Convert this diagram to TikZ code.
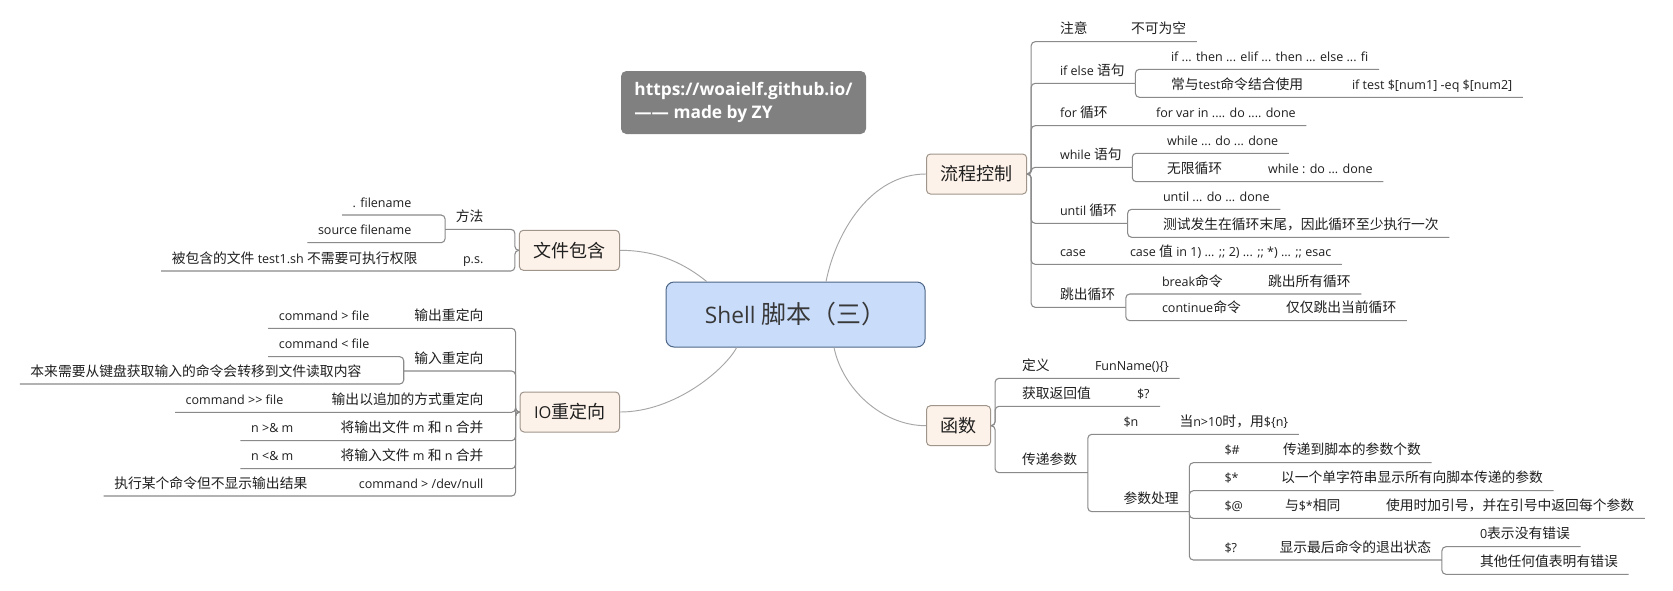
\documentclass[tikz,border=0pt]{standalone}
\usepackage{fontspec}
\usepackage{tikz}
\setmainfont{Open Sans}
\newfontfamily\latfont{Open Sans}
\newfontfamily\cjkfont{Noto Sans CJK SC}[Scale=1.1]

% CJK runs switch font by themselves
\XeTeXinterchartokenstate=1
\newXeTeXintercharclass\cjkclass
\newcount\cjkcode
\cjkcode="3000
\loop
  \XeTeXcharclass\cjkcode=\cjkclass
  \ifnum\cjkcode<"9FFF \advance\cjkcode by 1
\repeat
\cjkcode="FF00
\loop
  \XeTeXcharclass\cjkcode=\cjkclass
  \ifnum\cjkcode<"FFEF \advance\cjkcode by 1
\repeat
\XeTeXinterchartoks 0 \cjkclass = {\cjkfont}
\XeTeXinterchartoks 4095 \cjkclass = {\cjkfont}
\XeTeXinterchartoks \cjkclass 0 = {\latfont}
\XeTeXinterchartoks \cjkclass 4095 = {\latfont}

\definecolor{rootfill}{HTML}{C9DCFA}
\definecolor{rootborder}{HTML}{4C6587}
\definecolor{topfill}{HTML}{FDF2E9}
\definecolor{topborder}{HTML}{A0958B}
\definecolor{notegray}{HTML}{808080}
\definecolor{linkgray}{HTML}{A6A6A6}
\definecolor{branchgray}{HTML}{8A8A8A}
\definecolor{textdark}{HTML}{1F1F1F}
\definecolor{titlegray}{HTML}{383838}

\begin{document}
\begin{tikzpicture}[x=0.75pt, y=-0.75pt,
    root/.style={draw=rootborder, line width=0.75pt, fill=rootfill, rounded corners=6pt, minimum width=194.25pt, minimum height=48.75pt, font=\fontsize{17}{20}\selectfont, text=titlegray},
    topic/.style={draw=topborder, line width=0.75pt, fill=topfill, rounded corners=3pt, inner xsep=10.5pt, minimum height=30pt, font=\fontsize{12.3}{14}\selectfont, text=textdark},
    note/.style={fill=notegray, rounded corners=4pt, minimum width=183.75pt, minimum height=47.25pt, align=left, text=white, font=\bfseries\fontsize{13}{17.5}\selectfont}]
        \tikzset{leaf/.style={anchor=text, inner xsep=8pt, inner ysep=0pt, outer sep=0pt, text depth=6pt, font=\fontsize{9.4}{11}\selectfont, text=textdark}}
        \tikzset{leafl/.style={leaf, anchor=base east}}
        \tikzset{link/.style={draw=linkgray, line width=0.7pt}}
        \tikzset{branch/.style={draw=branchgray, line width=0.8pt, rounded corners=3pt}}
        \fill[white] (0,0) rectangle (1673,590);
        \useasboundingbox (0,0) rectangle (1673,590);
        % top level
        \node[note] (url) at (743.5,102.5) {https://woaielf.github.io/\\—— made by ZY};
        \node[root] (sh) at (795.5,314.5) {Shell 脚本（三）};
        \node[topic, anchor=west] (lc) at (926,174) {流程控制};
        \node[topic, anchor=west] (hs) at (926,425.7) {函数};
        \node[topic, anchor=east] (wjbh) at (620,250.3) {文件包含};
        \node[topic, anchor=east] (io) at (620,412) {IO重定向};
        \draw[link] ([xshift=22.9pt]sh.north) .. controls +(10,-50) and +(-55,0) .. (lc.west);
        \draw[link] ([xshift=28.9pt]sh.south) .. controls +(8,40) and +(-45,0) .. (hs.west);
        \draw[link] ([xshift=-66.6pt]sh.north) .. controls +(-20,-16) and +(40,0) .. (wjbh.east);
        \draw[link] ([xshift=-44.1pt]sh.south) .. controls +(-12,22) and +(55,0) .. (io.east);
        % flow control
        \node[leaf] (zy) at (1060,33.7) {注意};
        \node[leaf] (bkwk) at (1131,33.7) {不可为空};
        \node[leaf] (ifelse) at (1060,75.3) {if else 语句};
        \node[leaf] (ifthen) at (1171,61.3) {if ... then ... elif ... then ... else ... fi};
        \node[leaf] (ifcy) at (1171,89.3) {常与test命令结合使用};
        \node[leaf] (iftest) at (1352,89.3) {if test \$[num1] -eq \$[num2]};
        \node[leaf] (forxh) at (1060,117.7) {for 循环};
        \node[leaf] (forvar) at (1156,117.7) {for var in .... do .... done};
        \node[leaf] (whilejy) at (1060,159.3) {while 语句};
        \node[leaf] (whiledo) at (1167,145.3) {while ... do ... done};
        \node[leaf] (wxxh) at (1167,173.7) {无限循环};
        \node[leaf] (whileinf) at (1268,173.7) {while : do ... done};
        \node[leaf] (untilxh) at (1060,215.3) {until 循环};
        \node[leaf] (untildo) at (1163,201.3) {until ... do ... done};
        \node[leaf] (untilnote) at (1163,229.3) {测试发生在循环末尾，因此循环至少执行一次};
        \node[leaf] (casejy) at (1060,256.3) {case};
        \node[leaf] (casesyn) at (1130,256.3) {case 值 in 1) ... ;; 2) ... ;; *) ... ;; esac};
        \node[leaf] (tcxh) at (1060,299.3) {跳出循环};
        \node[leaf] (brk) at (1162,286) {break命令};
        \node[leaf] (brkall) at (1268,286) {跳出所有循环};
        \node[leaf] (cont) at (1162,312.7) {continue命令};
        \node[leaf] (contcur) at (1286,312.7) {仅仅跳出当前循环};
        \draw[branch] (lc.east) -- ++(4,0) |- (bkwk.south east);
        \draw[branch] (lc.east) -- ++(4,0) |- (ifelse.south east);
        \draw[branch] (lc.east) -- ++(4,0) |- (forvar.south east);
        \draw[branch] (lc.east) -- ++(4,0) |- (whilejy.south east);
        \draw[branch] (lc.east) -- ++(4,0) |- (untilxh.south east);
        \draw[branch] (lc.east) -- ++(4,0) |- (casesyn.south east);
        \draw[branch] (lc.east) -- ++(4,0) |- (tcxh.south east);
        \draw[branch] (ifelse.south east) |- (ifthen.south east);
        \draw[branch] (ifelse.south east) |- (iftest.south east);
        \draw[branch] (whilejy.south east) |- (whiledo.south east);
        \draw[branch] (whilejy.south east) |- (whileinf.south east);
        \draw[branch] (untilxh.south east) |- (untildo.south east);
        \draw[branch] (untilxh.south east) |- (untilnote.south east);
        \draw[branch] (tcxh.south east) |- (brkall.south east);
        \draw[branch] (tcxh.south east) |- (contcur.south east);
        % functions
        \node[leaf] (dy) at (1022,370.3) {定义};
        \node[leaf] (funname) at (1095,370.3) {FunName()\{\}};
        \node[leaf] (hqfhz) at (1022,398.3) {获取返回值};
        \node[leaf] (retval) at (1137,398.3) {\$?};
        \node[leaf] (cdcs) at (1022,464.7) {传递参数};
        \node[leaf] (dn) at (1123.5,426.3) {\$n};
        \node[leaf] (dngt) at (1179.5,426.3) {当n>10时，用\$\{n\}};
        \node[leaf] (cscl) at (1123.5,503.7) {参数处理};
        \node[leaf] (dhash) at (1224.5,454.7) {\$\#};
        \node[leaf] (dhashd) at (1283,454.7) {传递到脚本的参数个数};
        \node[leaf] (dstar) at (1224.5,482.7) {\$*};
        \node[leaf] (dstard) at (1281,482.7) {以一个单字符串显示所有向脚本传递的参数};
        \node[leaf] (dat) at (1224.5,510.3) {\$@};
        \node[leaf] (datd) at (1285,510.3) {与\$*相同};
        \node[leaf] (datn) at (1386,510.3) {使用时加引号，并在引号中返回每个参数};
        \node[leaf] (dq) at (1224.5,552) {\$?};
        \node[leaf] (dqd) at (1279.6,552) {显示最后命令的退出状态};
        \node[leaf] (dqzero) at (1480,538.7) {0表示没有错误};
        \node[leaf] (dqother) at (1480,566.3) {其他任何值表明有错误};
        \draw[branch] (hs.east) -- ++(4,0) |- (funname.south east);
        \draw[branch] (hs.east) -- ++(4,0) |- (retval.south east);
        \draw[branch] (hs.east) -- ++(4,0) |- (cdcs.south east);
        \draw[branch] (cdcs.south east) |- (dngt.south east);
        \draw[branch] (cdcs.south east) |- (cscl.south east);
        \draw[branch] (cscl.south east) |- (dhashd.south east);
        \draw[branch] (cscl.south east) |- (dstard.south east);
        \draw[branch] (cscl.south east) |- (datn.south east);
        \draw[branch] (cscl.south east) |- (dqd.south east);
        \draw[branch] (dqd.south east) |- (dqzero.south east);
        \draw[branch] (dqd.south east) |- (dqother.south east);
        % file include
        \node[leafl] (ff) at (494,221.3) {方法};
        \node[leafl] (dotf) at (422,207) {. filename};
        \node[leafl] (srcf) at (422,234.7) {source filename};
        \node[leafl] (ps) at (494,263) {p.s.};
        \node[leafl] (psn) at (428,263) {被包含的文件 test1.sh 不需要可执行权限};
        \draw[branch] (wjbh.west) -- ++(-4,0) |- (ff.south west);
        \draw[branch] (wjbh.west) -- ++(-4,0) |- (psn.south west);
        \draw[branch] (ff.south west) |- (dotf.south west);
        \draw[branch] (ff.south west) |- (srcf.south west);
        % io redirection
        \node[leafl] (scdx) at (494,320.3) {输出重定向};
        \node[leafl] (cmdgt) at (380,320.3) {command > file};
        \node[leafl] (srcdx) at (494,363) {输入重定向};
        \node[leafl] (cmdlt) at (380,348.7) {command < file};
        \node[leafl] (srnote) at (372,376) {本来需要从键盘获取输入的命令会转移到文件读取内容};
        \node[leafl] (zjdx) at (494,404.3) {输出以追加的方式重定向};
        \node[leafl] (cmdapp) at (294,404.3) {command >{}> file};
        \node[leafl] (hbout) at (494,432.7) {将输出文件 m 和 n 合并};
        \node[leafl] (nout) at (304,432.7) {n >\& m};
        \node[leafl] (hbin) at (494,460.7) {将输入文件 m 和 n 合并};
        \node[leafl] (nin) at (304,460.7) {n <\& m};
        \node[leafl] (devnull) at (494,488) {command > /dev/null};
        \node[leafl] (devnote) at (318,488) {执行某个命令但不显示输出结果};
        \draw[branch] (io.west) -- ++(-4,0) |- (cmdgt.south west);
        \draw[branch] (io.west) -- ++(-4,0) |- (srcdx.south west);
        \draw[branch] (io.west) -- ++(-4,0) |- (cmdapp.south west);
        \draw[branch] (io.west) -- ++(-4,0) |- (nout.south west);
        \draw[branch] (io.west) -- ++(-4,0) |- (nin.south west);
        \draw[branch] (io.west) -- ++(-4,0) |- (devnote.south west);
        \draw[branch] (srcdx.south west) |- (cmdlt.south west);
        \draw[branch] (srcdx.south west) |- (srnote.south west);
\end{tikzpicture}
\end{document}
